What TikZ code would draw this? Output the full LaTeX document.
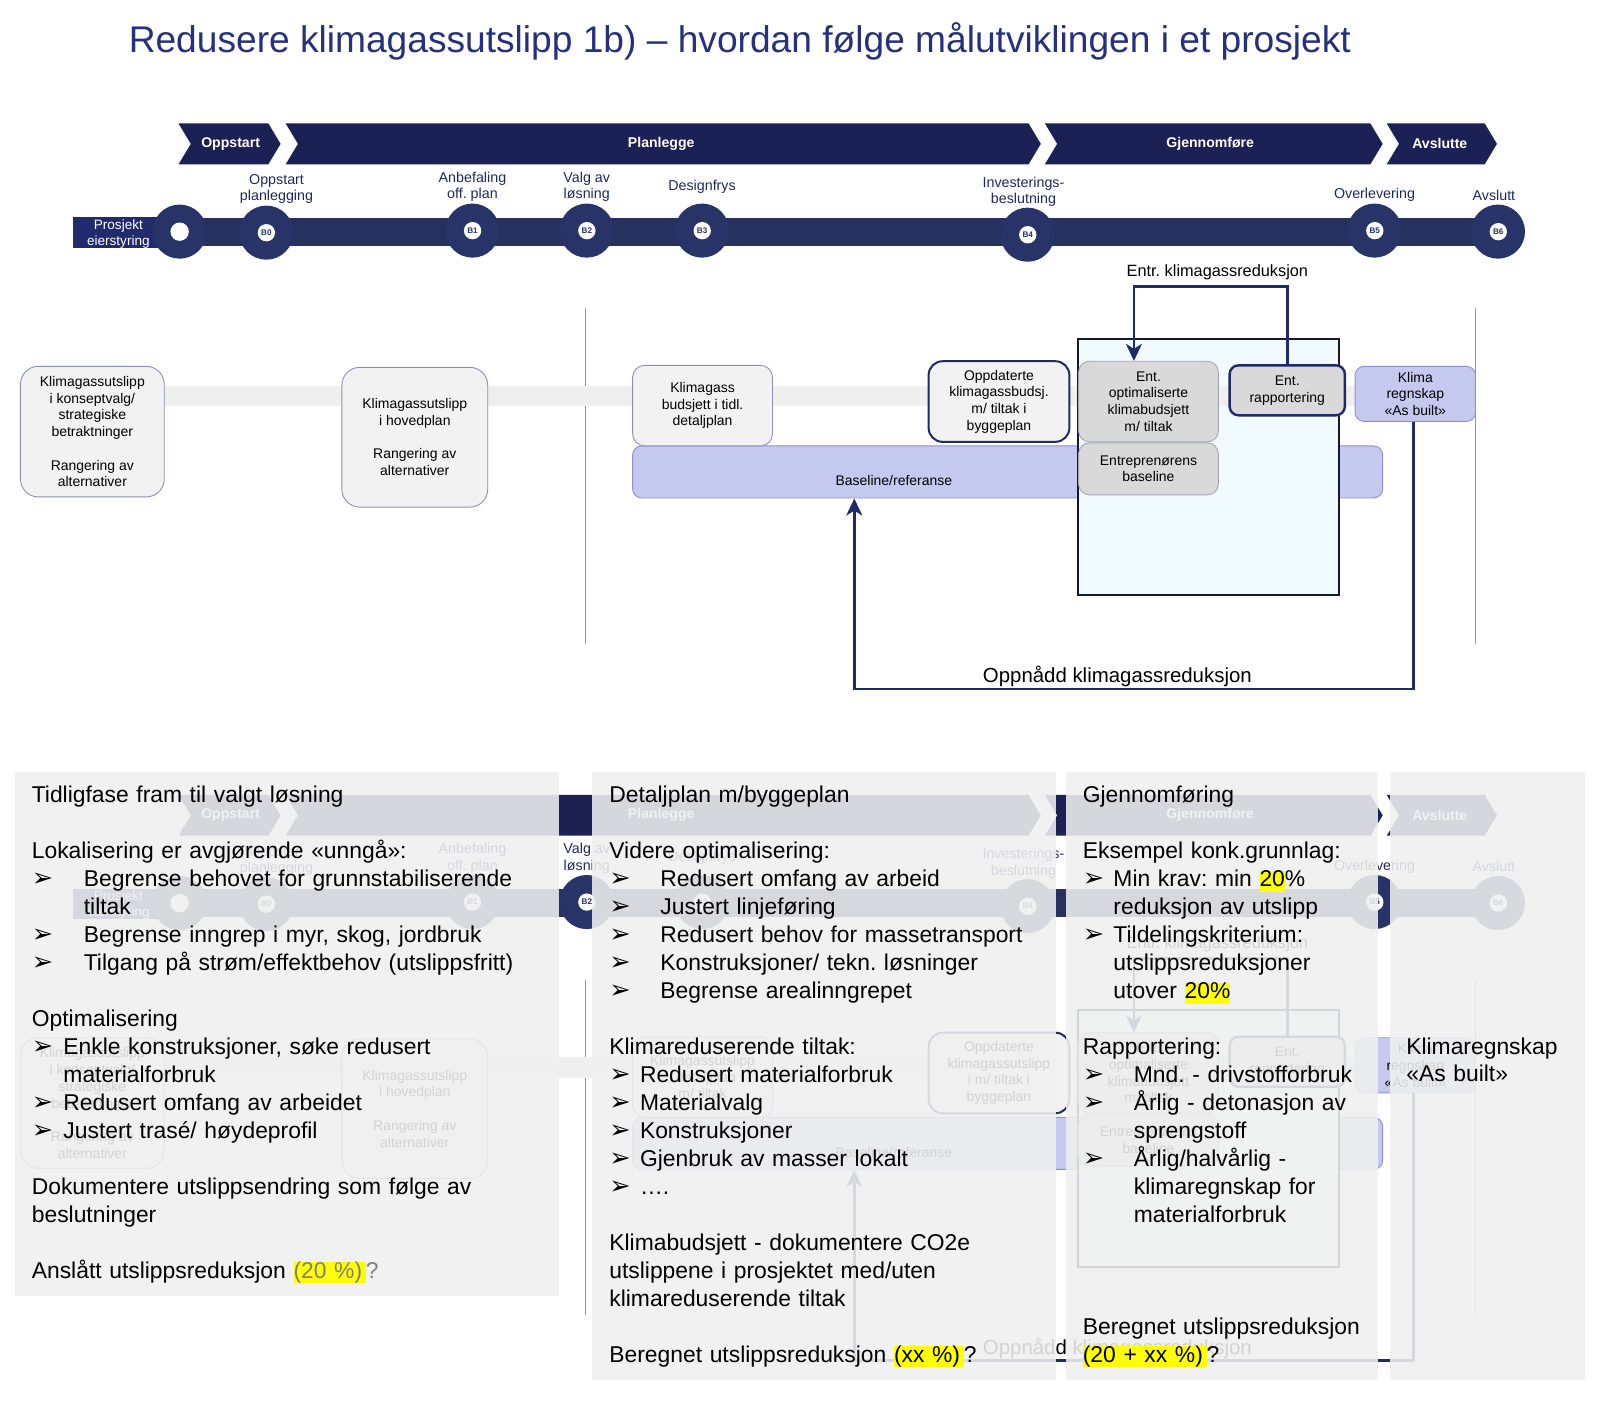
\documentclass[tikz,border=0pt]{standalone}
\usepackage{fontspec}
\setmainfont{Liberation Sans}
\newfontfamily\dejavu{DejaVu Sans}
\usetikzlibrary{arrows.meta}
\setlength\parindent{0pt}
\frenchspacing
\definecolor{titleblue}{HTML}{25317C}
\definecolor{phasenavy}{HTML}{1B2055}
\definecolor{linenavy}{HTML}{26315F}
\definecolor{circnavy}{HTML}{283468}
\definecolor{projnavy}{HTML}{202A6C}
\definecolor{labelnavy}{HTML}{1F2A5C}
\definecolor{boxgrey}{HTML}{F2F2F2}
\definecolor{boxedge}{HTML}{8C90B4}
\definecolor{lav}{HTML}{C6C9EF}
\definecolor{lavedge}{HTML}{8D92CC}
\definecolor{midgrey}{HTML}{D9D9D9}
\definecolor{midedge}{HTML}{A4A6B6}
\definecolor{lightcyan}{HTML}{F1FAFE}
\definecolor{bandgrey}{HTML}{EFEFEF}
\definecolor{divider}{HTML}{8F93B3}
\definecolor{hlyellow}{HTML}{FFFF00}
\definecolor{panelgrey}{HTML}{F0F0F0}
\definecolor{connavy}{HTML}{1F2A6A}
\definecolor{boxblack}{HTML}{141838}
\definecolor{gtxt}{HTML}{808080}
\newcommand\arr[1]{\makebox[#1][l]{\dejavu\fontsize{25}{21}\selectfont ➢}}
\newcommand\hlt[1]{{\setlength\fboxsep{0pt}\colorbox{hlyellow}{\rule[-5pt]{0pt}{20.5pt}#1}}}
\newcommand\ptfont{\fontsize{22.4}{27.4}\selectfont}
\newcommand\bxfont{\fontsize{13.7}{16.4}\selectfont}
\tikzset{
  phase/.style={fill=phasenavy},
  phaselbl/.style={text=white, font=\fontsize{13.8}{15}\selectfont\bfseries, inner sep=0pt},
  ms/.style={circle, fill=circnavy, minimum size=53pt, inner sep=0pt},
  msin/.style={circle, fill=white, minimum size=17pt, inner sep=0pt, text=circnavy, font=\fontsize{8}{8}\selectfont\bfseries},
  msdot/.style={circle, fill=white, minimum size=18pt, inner sep=0pt},
  mslbl/.style={text=labelnavy, align=center, font=\fontsize{14}{16}\selectfont, inner sep=0pt},
  rbox/.style={draw=boxedge, fill=boxgrey, line width=0.9pt, rounded corners=14pt, align=center, inner sep=0pt, font=\bxfont},
  gbox/.style={rbox, fill=midgrey, draw=midedge, rounded corners=11pt},
  lbox/.style={rbox, fill=lav, draw=lavedge, rounded corners=9pt},
  conn/.style={draw=connavy, line width=2.6pt, -{Stealth[length=17pt,width=16pt,inset=5pt]}},
  divline/.style={draw=divider, line width=1.2pt},
  ptext/.style={anchor=north west, inner sep=0pt, align=left, text width=560pt, font=\ptfont},
  panel/.style={fill=panelgrey, fill opacity=0.88},
}
\newcommand\drawdiagram[2]{%
  % phase chevrons
  \fill[phase] (175,121) -- (263,121) -- (275,141) -- (263,161) -- (175,161) -- (187,141) -- cycle;
  \fill[phase] (280,121) -- (1008,121) -- (1020,141) -- (1008,161) -- (280,161) -- (292,141) -- cycle;
  \fill[phase] (1024,121) -- (1343,121) -- (1355,141) -- (1343,161) -- (1024,161) -- (1036,141) -- cycle;
  \fill[phase] (1359,121) -- (1455,121) -- (1467,141) -- (1455,161) -- (1359,161) -- (1371,141) -- cycle;
  \node[phaselbl] (ph1) at (226,141) {Oppstart};
  \node[phaselbl] (ph2) at (648,141) {Planlegge};
  \node[phaselbl] (ph3) at (1186,141) {Gjennomføre};
  \node[phaselbl] (ph4) at (1411,141) {Avslutte};
  % timeline
  \coordinate (tlS) at (72,227);
  \coordinate (tlE) at (1468,227);
  \draw[line width=28pt, draw=linenavy] (tlS) -- (tlE);
  \node[fill=projnavy, minimum width=86pt, minimum height=30pt, inner sep=0pt] (proj) at (115,228) {};
  \node[text=white, align=center, font=\fontsize{13.3}{16}\selectfont, inner sep=0pt] (projt) at (116,229) {Prosjekt\\eierstyring};
  \node[ms] (ms0) at (176,227) {};
  \node[msdot] (ms0i) at (ms0) {};
  \node[ms] (ms1) at (261,228) {};
  \node[msin] (ms1i) at (ms1) {B0};
  \node[ms] (ms2) at (463,226) {};
  \node[msin] (ms2i) at (ms2) {B1};
  \node[ms] (ms3) at (575,226) {};
  \node[msin] (ms3i) at (ms3) {B2};
  \node[ms] (ms4) at (688,226) {};
  \node[msin] (ms4i) at (ms4) {B3};
  \node[ms] (ms5) at (1007,230) {};
  \node[msin] (ms5i) at (ms5) {B4};
  \node[ms] (ms6) at (1347,226) {};
  \node[msin] (ms6i) at (ms6) {B5};
  \node[ms] (ms7) at (1468,227) {};
  \node[msin] (ms7i) at (ms7) {B6};
  \node[mslbl] (l1) at (271,185.5) {Oppstart\\planlegging};
  \node[mslbl] (l2) at (463,183) {Anbefaling\\off. plan};
  \node[mslbl] (l3) at (575,183) {Valg av\\løsning};
  \node[mslbl] (l4) at (688,183) {Designfrys};
  \node[mslbl] (l5) at (1003,188) {Investerings-\\beslutning};
  \node[mslbl] (l6) at (1347,191) {Overlevering};
  \node[mslbl] (l7) at (1464,191) {Avslutt};
  % dividers
  \draw[divline] (574,302) -- (574,631);
  \draw[divline] (1446,302) -- (1446,631);
  % baseline bar
  \node[lbox, minimum width=735pt, minimum height=51pt] (base) at (987.5,462.5) {};
  \node[font=\bxfont, inner sep=0pt] (baselbl) at (876,471) {Baseline/referanse};
  % contractor frame
  \node[fill=lightcyan, minimum width=256pt, minimum height=251pt, inner sep=0pt] (frame) at (1184,457.5) {};
  \fill[bandgrey] (90,378) rectangle (1335,398);
  \draw[draw=boxblack, line width=2pt] (frame.north west) rectangle (frame.south east);
  % boxes
  \node[rbox, rounded corners=18pt, minimum width=141pt, minimum height=128pt] (bA) at (90.5,423)
    {Klimagassutslipp\\i konseptvalg/\\strategiske\\betraktninger\\[16.4pt]Rangering av\\alternativer};
  \node[rbox, rounded corners=18pt, minimum width=143pt, minimum height=137pt] (bB) at (406.5,428.5)
    {Klimagassutslipp\\i hovedplan\\[16.4pt]Rangering av\\alternativer};
  \node[rbox, rounded corners=12pt, minimum width=137pt, minimum height=79pt] (bC) at (688.5,397.5) {#1};
  \node[rbox, draw=connavy, line width=2pt, minimum width=138pt, minimum height=79pt] (bD) at (979,393.5) {#2};
  \node[gbox, minimum width=137pt, minimum height=79pt] (bE) at (1125.5,393.5)
    {Ent.\\optimaliserte\\klimabudsjett\\m/ tiltak};
  \node[gbox, minimum width=137pt, minimum height=51pt] (bF) at (1125.5,459.5)
    {Entreprenørens\\baseline};
  \node[gbox, draw=connavy, line width=2.4pt, rounded corners=9pt, minimum width=113pt, minimum height=49pt] (bG) at (1261.5,382.5)
    {Ent.\\rapportering};
  \node[lbox, minimum width=118pt, minimum height=54pt] (bH) at (1387,386)
    {Klima\\regnskap\\«As built»};
  % connectors
  \coordinate (fbL) at (1111,281);
  \draw[conn] (bG.north) |- (fbL) -- (fbL |- bE.north);
  \node[font=\fontsize{16}{18}\selectfont, inner sep=0pt] (entrlbl) at (1193,267) {Entr. klimagassreduksjon};
  \coordinate (lpR) at (1385,675);
  \coordinate (lpL) at (837,675);
  \draw[conn] (bH.south -| lpR) -- (lpR) -- (lpL) -- (lpL |- base.south);
  \node[font=\fontsize{20}{22}\selectfont, inner sep=0pt] (oppnlbl) at (1095,663) {Oppnådd klimagassreduksjon};
}
\begin{document}
\begin{tikzpicture}[x=1pt,y=-1pt,scale=1.0204,every node/.append style={transform shape}]
\useasboundingbox (0,0) rectangle (1568,1375.9);
\fill[white] (0,0) rectangle (1568,1375.9);
\node[anchor=base west, text=titleblue, font=\fontsize{36.4}{42}\selectfont, inner sep=0pt] (title) at (126,51)
  {Redusere klimagassutslipp 1b) – hvordan følge målutviklingen i et prosjekt};
\begin{scope}[name prefix=m-]
  \drawdiagram{Klimagass\\budsjett i tidl.\\detaljplan}{Oppdaterte\\klimagassbudsj.\\m/ tiltak i\\byggeplan}
\end{scope}
\begin{scope}[shift={(0,658)}, name prefix=g-]
  \drawdiagram{Klimagassutslipp\\i detaljplan\\m/ tiltak}{Oppdaterte\\klimagassutslipp\\i m/ tiltak i\\byggeplan}
\end{scope}
% overlay panels
\fill[panel] (15,757) rectangle (548,1270);
\fill[panel] (580,757) rectangle (1035,1352);
\fill[panel] (1045,757) rectangle (1350,1352);
\fill[panel] (1362,757) rectangle (1553,1352);
% panel texts
\node[ptext] (p1) at (31,770.5) {%
Tidligfase fram til valgt løsning\\[27.4pt]
Lokalisering er avgjørende «unngå»:\\
\arr{51pt}Begrense behovet for grunnstabiliserende\\
\hspace*{51pt}tiltak\\
\arr{51pt}Begrense inngrep i myr, skog, jordbruk\\
\arr{51pt}Tilgang på strøm/effektbehov (utslippsfritt)\\[27.4pt]
Optimalisering\\
\arr{31pt}Enkle konstruksjoner, søke redusert\\
\hspace*{31pt}materialforbruk\\
\arr{31pt}Redusert omfang av arbeidet\\
\arr{31pt}Justert trasé/ høydeprofil\\[27.4pt]
Dokumentere utslippsendring som følge av\\
beslutninger\\[27.4pt]
Anslått utslippsreduksjon {\color{gtxt}\hlt{(20 \%)\,}?}};
\node[ptext, text width=440pt] (p2) at (597,770.5) {%
Detaljplan m/byggeplan\\[27.4pt]
Videre optimalisering:\\
\arr{50pt}Redusert omfang av arbeid\\
\arr{50pt}Justert linjeføring\\
\arr{50pt}Redusert behov for massetransport\\
\arr{50pt}Konstruksjoner/ tekn. løsninger\\
\arr{50pt}Begrense arealinngrepet\\[27.4pt]
Klimareduserende tiltak:\\
\arr{30pt}Redusert materialforbruk\\
\arr{30pt}Materialvalg\\
\arr{30pt}Konstruksjoner\\
\arr{30pt}Gjenbruk av masser lokalt\\
\arr{30pt}….\\[27.4pt]
Klimabudsjett - dokumentere CO2e\\
utslippene i prosjektet med/uten\\
klimareduserende tiltak\\[27.4pt]
Beregnet utslippsreduksjon \hlt{(xx \%)\,}?};
\node[ptext, text width=300pt] (p3) at (1061,770.5) {%
Gjennomføring\\[27.4pt]
Eksempel konk.grunnlag:\\
\arr{30pt}Min krav: min \hlt{20}\%\\
\hspace*{30pt}reduksjon av utslipp\\
\arr{30pt}Tildelingskriterium:\\
\hspace*{30pt}utslippsreduksjoner\\
\hspace*{30pt}utover \hlt{20\%}\\[27.4pt]
Rapportering:\\
\arr{50pt}Mnd. - drivstofforbruk\\
\arr{50pt}Årlig - detonasjon av\\
\hspace*{50pt}sprengstoff\\
\arr{50pt}Årlig/halvårlig -\\
\hspace*{50pt}klimaregnskap for\\
\hspace*{50pt}materialforbruk\\[82.2pt]
Beregnet utslippsreduksjon\\
\hlt{(20 + xx \%)\,}?};
\node[ptext, text width=200pt] (p4) at (1378,1016.5) {%
Klimaregnskap\\
«As built»};
\end{tikzpicture}
\end{document}
